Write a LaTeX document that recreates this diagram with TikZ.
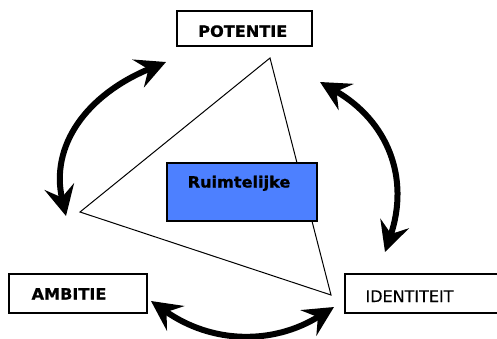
\documentclass[tikz,border=0pt]{standalone}
\usepackage{fontspec}
\setmainfont{DejaVu Sans}
\newfontfamily\boldwide[FakeStretch=1.04,FakeBold=0.9]{DejaVu Sans Bold}
\newfontfamily\plainface[FakeBold=0.3]{DejaVu Sans}
\usetikzlibrary{arrows.meta}
\definecolor{spaceblue}{RGB}{77,128,255}
\tikzset{
  framebox/.style={draw=black, line width=1.8pt, fill=white, rectangle, inner sep=0pt},
  boldlabel/.style={anchor=base, inner sep=0pt, font=\boldwide\fontsize{15.5}{17}\selectfont},
  plainlabel/.style={anchor=base, inner sep=0pt, font=\plainface\fontsize{16}{18}\selectfont},
  edge/.style={draw=black, line width=1pt, line join=miter},
  cycle arrow/.style={line width=6pt,
    {Stealth[length=30pt,width=30pt,inset=11pt]}-{Stealth[length=30pt,width=30pt,inset=11pt]}}
}
\begin{document}
\begin{tikzpicture}[x=1pt,y=-1pt]
\useasboundingbox (0,0) rectangle (497,338);
\fill[white] (0,0) rectangle (497,338);

% corners of the triangle
\coordinate (top) at (270,58);
\coordinate (left) at (80,212);
\coordinate (right) at (331,295);
\draw[edge] (top) -- (left) -- (right) -- cycle;

% central block
\node[framebox, fill=spaceblue, line width=2pt, minimum width=150pt, minimum height=58pt] (core) at (242,192) {};
\node[boldlabel] (coretext) at (239,187.5) {Ruimtelijke};

% three corner boxes
\node[framebox, minimum width=135pt, minimum height=35pt] (potbox) at (244.5,28.5) {};
\node[boldlabel] (pottext) at (242.8,36.8) {POTENTIE};

\node[framebox, minimum width=138pt, minimum height=39pt] (ambbox) at (78,293.5) {};
\node[boldlabel] (ambtext) at (69,299.5) {AMBITIE};

\node[framebox, minimum width=160pt, minimum height=39pt] (idbox) at (425,293.5) {};
\node[plainlabel] (idtext) at (409.5,302) {IDENTITEIT};

% ends of the curved double arrows
\coordinate (a1) at (166,62);
\coordinate (a2) at (66,216);
\coordinate (b1) at (320,82);
\coordinate (b2) at (385,252);
\coordinate (c1) at (151,301);
\coordinate (c2) at (334,307);

\draw[cycle arrow] (a1) .. controls (86,95) and (50,146) .. (a2);
\draw[cycle arrow] (b1) .. controls (388,121) and (410,178) .. (b2);
\draw[cycle arrow] (c1) .. controls (212,344) and (273,345) .. (c2);
\end{tikzpicture}
\end{document}
